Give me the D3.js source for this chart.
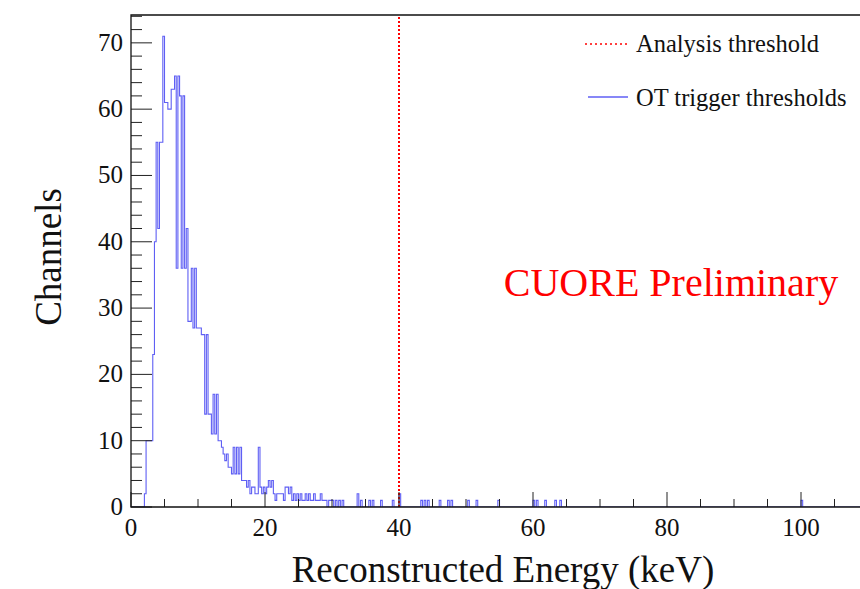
<!DOCTYPE html>
<html>
<head>
<meta charset="utf-8">
<script src="https://cdn.jsdelivr.net/npm/d3@7"></script>
<style>
  body { margin: 0; background: #fff; }
  svg { display: block; font-family: "Liberation Serif", "DejaVu Serif", serif; }
</style>
</head>
<body>
<svg id="chart" width="860" height="589"></svg>
<script>
// 再構成エネルギー分布(0.25 keV ビン)
const binWidth = 0.25;
// 0〜30 keV のビン内容
const counts = [
  0, 0, 0, 0, 0, 0, 0, 0, 2, 10,
  10, 10, 10, 23, 40, 55, 42, 55, 55, 71,
  61, 61, 60, 60, 63, 63, 65, 36, 65, 62,
  36, 62, 36, 42, 28, 28, 36, 27, 36, 27,
  27, 27, 26, 26, 14, 26, 14, 14, 11, 17,
  11, 17, 10, 10, 9, 8, 7, 8, 6, 6,
  5, 9, 5, 9, 5, 9, 4, 4, 4, 3,
  4, 2, 3, 3, 2, 2, 9, 3, 2, 3,
  2, 3, 4, 3, 4, 2, 1, 2, 2, 2,
  2, 1, 3, 3, 2, 3, 1, 2, 1, 2,
  1, 2, 1, 1, 2, 1, 2, 1, 1, 2,
  1, 1, 1, 2, 1, 1, 1, 0, 1, 1,
];
// 30 keV 以上のまばらなエントリ
const tailEnergy = [30.2, 30.7, 31.2, 31.7, 33.9, 34.4, 35.6, 36.1, 37.4, 39.1, 40.1, 43.4, 43.9, 44.4,
  46.1, 47.3, 47.9, 50.4, 51.7, 54.8, 60.1, 60.6, 61.8, 63.3, 64.1, 100.1];
const tailCount = [1, 1, 1, 1, 2, 1, 1, 1, 1, 1, 2, 1, 1, 1,
  1, 1, 1, 1, 1, 1, 1, 1, 1, 1, 1, 1];

const xTicks = [0, 20, 40, 60, 80, 100];
const yTicks = [0, 10, 20, 30, 40, 50, 60, 70];
const xDomain = [0, 110];
const yDomain = [0, 74.2];
const threshold = 40;

const legendLabels = ["Analysis threshold", "OT trigger thresholds"];
const HIST_COLOR = "#5f5ff4";

// ---------- 配置 ----------
const svg = d3.select("#chart");
const M = { left: 131, top: 15, bottom: 82 };
const W = 860, H = 589;
const x = d3.scaleLinear().domain(xDomain).range([M.left, M.left + 737]);
const y = d3.scaleLinear().domain(yDomain).range([H - M.bottom, M.top]);

// ビン配列を組み立てる
const nBins = Math.round((xDomain[1] - xDomain[0]) / binWidth);
const values = new Array(nBins).fill(0);
counts.forEach((c, i) => (values[i] = c));
tailEnergy.forEach((e, i) => (values[Math.floor(e / binWidth)] += tailCount[i]));

svg.append("clipPath").attr("id", "plot")
  .append("rect").attr("x", x(0)).attr("y", y(yDomain[1])).attr("width", x(xDomain[1]) - x(0)).attr("height", y(0) - y(yDomain[1]));

// ヒストグラム(段差線)
const pts = [];
values.forEach((v, i) => {
  pts.push([i * binWidth, v]);
  pts.push([(i + 1) * binWidth, v]);
});
svg.append("path")
  .attr("clip-path", "url(#plot)")
  .attr("d", d3.line().x((d) => x(d[0])).y((d) => y(d[1]))(pts))
  .attr("fill", "none")
  .attr("stroke", HIST_COLOR)
  .attr("stroke-width", 1.1);

// 解析閾値
svg.append("line")
  .attr("x1", x(threshold)).attr("x2", x(threshold))
  .attr("y1", y(0)).attr("y2", y(yDomain[1]))
  .attr("stroke", "#ff0000").attr("stroke-width", 2).attr("stroke-dasharray", "2,2");

// ---------- 軸 ----------
const xMinor = d3.range(0, xDomain[1] + 0.01, 5).filter((v) => !xTicks.includes(v));
const yMinor = d3.range(0, yDomain[1], 2).filter((v) => !yTicks.includes(v));
const axisG = svg.append("g").attr("stroke", "#222").attr("stroke-width", 1);

axisG.selectAll(".xmaj").data(xTicks).join("line")
  .attr("x1", (d) => x(d)).attr("x2", (d) => x(d)).attr("y1", y(0)).attr("y2", y(0) - 15);
axisG.selectAll(".xmin").data(xMinor).join("line")
  .attr("x1", (d) => x(d)).attr("x2", (d) => x(d)).attr("y1", y(0)).attr("y2", y(0) - 8);
axisG.selectAll(".ymaj").data(yTicks).join("line")
  .attr("x1", x(0)).attr("x2", x(0) + 21).attr("y1", (d) => y(d)).attr("y2", (d) => y(d));
axisG.selectAll(".ymin").data(yMinor).join("line")
  .attr("x1", x(0)).attr("x2", x(0) + 11).attr("y1", (d) => y(d)).attr("y2", (d) => y(d));

// 枠
svg.append("path")
  .attr("d", `M${x(xDomain[1])},${y(yDomain[1])}H${x(0)}V${y(0)}H${x(xDomain[1])}`)
  .attr("fill", "none").attr("stroke", "#111").attr("stroke-width", 1.3);

svg.append("g").selectAll("text").data(xTicks).join("text")
  .attr("x", (d) => x(d)).attr("y", y(0) + 29)
  .attr("text-anchor", "middle").attr("font-size", 25).attr("fill", "#111")
  .text((d) => d);
svg.append("g").selectAll("text").data(yTicks).join("text")
  .attr("x", x(0) - 8).attr("y", (d) => y(d) + 8)
  .attr("text-anchor", "end").attr("font-size", 25).attr("fill", "#111")
  .text((d) => d);

svg.append("text")
  .attr("x", 503).attr("y", 582).attr("text-anchor", "middle")
  .attr("font-size", 37).attr("fill", "#111")
  .text("Reconstructed Energy (keV)");
svg.append("text")
  .attr("transform", `translate(61,257) rotate(-90)`).attr("text-anchor", "middle")
  .attr("font-size", 37).attr("fill", "#111")
  .text("Channels");

// ---------- 凡例 ----------
svg.append("line").attr("x1", 585).attr("x2", 628).attr("y1", 44).attr("y2", 44)
  .attr("stroke", "#ff0000").attr("stroke-width", 1.5).attr("stroke-dasharray", "2,3");
svg.append("line").attr("x1", 588).attr("x2", 628).attr("y1", 97).attr("y2", 97)
  .attr("stroke", HIST_COLOR).attr("stroke-width", 1.5);
svg.append("g").selectAll("text").data(legendLabels).join("text")
  .attr("x", 636).attr("y", (d, i) => 52 + i * 54)
  .attr("font-size", 24.5).attr("fill", "#111")
  .text((d) => d);

svg.append("text")
  .attr("x", 671).attr("y", 296).attr("text-anchor", "middle")
  .attr("font-size", 40).attr("fill", "#ff0000")
  .text("CUORE Preliminary");
</script>
</body>
</html>
